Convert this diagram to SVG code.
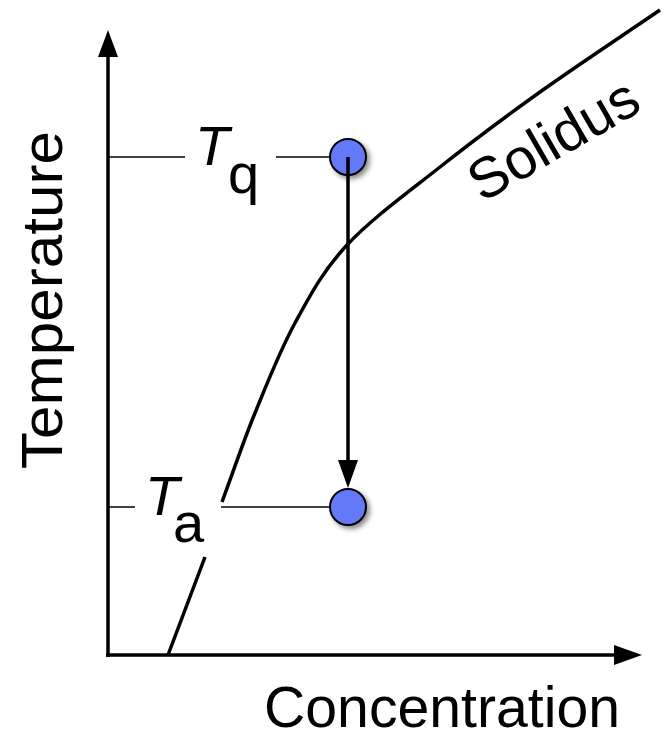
<svg xmlns="http://www.w3.org/2000/svg" width="665" height="731" viewBox="0 0 665 731">
<style>
text{font-family:"Liberation Sans",Arial,sans-serif;fill:#000}
.lbl{font-size:56px}
.ax{font-size:57px}
.thin{stroke:#000;stroke-width:1.5;fill:none}
.thick{stroke:#000;stroke-width:3.5;fill:none}
.dot{fill:#6479f7;stroke:#000;stroke-width:2;filter:url(#sh)}
</style>
<defs>
<filter id="sh" x="-50%" y="-50%" width="200%" height="200%">
<feDropShadow dx="3" dy="3" stdDeviation="2.5" flood-color="#000" flood-opacity="0.45"/>
</filter>
</defs>
<rect width="665" height="731" fill="#fff"/>
<g id="axes">
<line class="thick" x1="108" y1="657" x2="108" y2="55"/>
<polygon points="108,30 98,57 118,57"/>
<line class="thick" x1="106" y1="655" x2="616" y2="655"/>
<polygon points="642,655 614,645 614,665"/>
<text class="ax" transform="translate(62,300) rotate(-90)" text-anchor="middle" textLength="338" lengthAdjust="spacingAndGlyphs">Temperature</text>
<text class="ax" x="264" y="727" textLength="356" lengthAdjust="spacingAndGlyphs">Concentration</text>
</g>
<g id="solidus">
<path class="thick" d="M168,655 L205,557 M222,502 C233,472.3 242.8,442.8 255,413 C267.2,383.2 279.7,351 295,323 C310.3,295 322.8,271 347,245 C371.2,219 407.8,192.5 440,167 C472.2,141.5 503.3,118.2 540,92 C576.7,65.8 620,37.3 660,10"/>
<text class="ax" transform="translate(482,203) rotate(-30)">Solidus</text>
</g>
<g id="Tq">
<line class="thin" x1="108" y1="157" x2="185" y2="157"/>
<line class="thin" x1="276" y1="157" x2="332" y2="157"/>
<text class="lbl" x="195" y="165" font-style="italic">T</text>
<text class="lbl" x="228" y="193">q</text>
</g>
<g id="Ta">
<line class="thin" x1="108" y1="507" x2="135" y2="507"/>
<line class="thin" x1="221" y1="507" x2="332" y2="507"/>
<text class="lbl" x="145" y="515" font-style="italic">T</text>
<text class="lbl" x="173" y="542">a</text>
</g>
<g id="pointQ"><circle class="dot" cx="348" cy="157" r="18"/></g>
<g id="connectors">
<line class="thick" x1="348" y1="157" x2="348" y2="462"/>
<polygon points="348,488 338,460 358,460"/>
</g>
<g id="pointA"><circle class="dot" cx="348" cy="507" r="18"/></g>
</svg>
